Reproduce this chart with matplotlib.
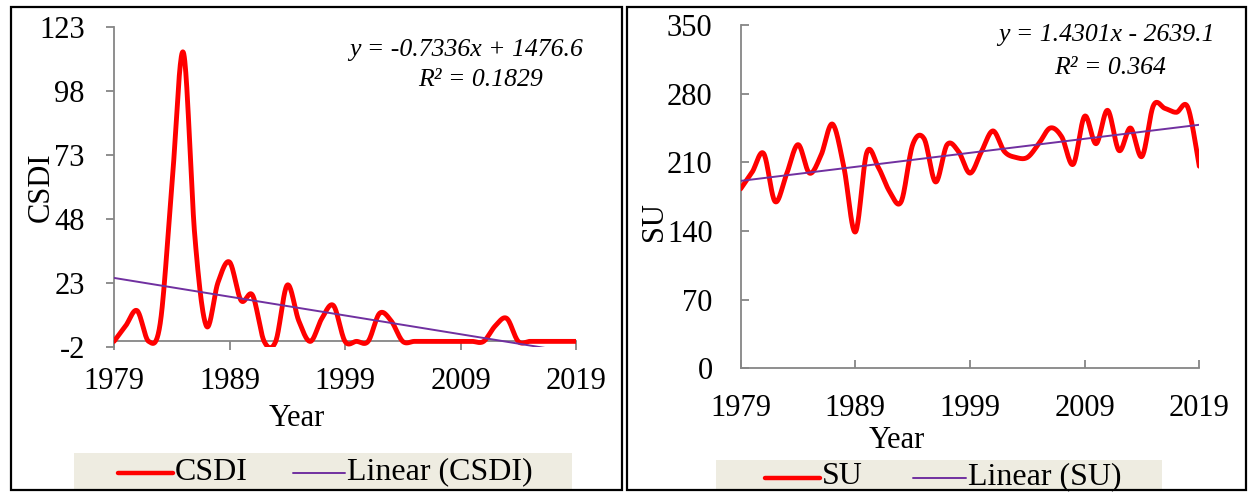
import numpy as np
import matplotlib
matplotlib.use("Agg")
import matplotlib.pyplot as plt
from matplotlib.patches import Rectangle
from matplotlib.lines import Line2D

plt.rcParams['font.family'] = ['Liberation Serif', 'DejaVu Serif']
plt.rcParams['axes.unicode_minus'] = False

# ---------------- data ----------------
years = list(range(1979, 2020))
csdi = [0, 6, 12, 0, 7, 60, 113, 41, 6, 23,
        31, 16, 18, 0, 0, 22, 8, 0, 9, 14,
        0, 0, 0, 11, 8, 0, 0, 0, 0, 0,
        0, 0, 0, 6, 9, 0, 0, 0, 0, 0, 0]
su = [183, 200, 219, 170, 198, 228, 199, 217, 249, 205,
      139, 220, 205, 180, 170, 228, 234, 190, 228, 221,
      199, 221, 242, 221, 215, 215, 229, 245, 236, 208,
      257, 229, 263, 222, 245, 216, 268, 265, 261, 266, 206]
csdi_slope, csdi_intercept = -0.7336, 1476.6
su_slope, su_intercept = 1.4301, -2639.1
csdi_eq = ["y = -0.7336x + 1476.6", "R² = 0.1829"]
su_eq = ["y = 1.4301x - 2639.1", "R² = 0.364"]
csdi_yticks = [-2, 23, 48, 73, 98, 123]
su_yticks = [0, 70, 140, 210, 280, 350]
xticks = [1979, 1989, 1999, 2009, 2019]

# ---------------- helpers ----------------
W, H = 1248, 492
fig = plt.figure(figsize=(W / 100, H / 100), dpi=100)


def fx(px):
    return px / W


def fy(py):
    return 1 - py / H


def smooth(x, y, n=24):
    """Excel-like smoothed line: cubic Bezier through every point."""
    x = np.asarray(x, float)
    y = np.asarray(y, float)
    P = np.column_stack([x, y])
    Pe = np.vstack([P[0], P, P[-1]])
    out = []
    t = np.linspace(0, 1, n)[:, None]
    for i in range(len(P) - 1):
        p0 = Pe[i + 1]
        p3 = Pe[i + 2]
        c1 = p0 + (Pe[i + 2] - Pe[i]) / 6
        c2 = p3 - (Pe[i + 3] - Pe[i + 1]) / 6
        seg = ((1 - t) ** 3) * p0 + 3 * ((1 - t) ** 2) * t * c1 + 3 * (1 - t) * t ** 2 * c2 + t ** 3 * p3
        out.append(seg if i == 0 else seg[1:])
    S = np.vstack(out)
    return S[:, 0], S[:, 1]


GRAY = '#868686'
RED = '#FF0000'
PURPLE = '#7030A0'
FS = 22
EQFS = 18.5
LFS = 23

# ---------------- panel borders ----------------
for (x0, x1) in [(11, 622), (627, 1246)]:
    fig.patches.append(Rectangle((fx(x0), fy(490)), fx(x1) - fx(x0), fy(7) - fy(490),
                                 transform=fig.transFigure, fill=False,
                                 edgecolor='black', linewidth=1.6, zorder=10))

# ---------------- left: CSDI ----------------
ax1 = fig.add_axes([fx(114), fy(346.5), fx(576) - fx(114), fy(26.7) - fy(346.5)])
ax1.set_xlim(1979, 2019)
ax1.set_ylim(-2, 123)
sx, sy = smooth(years, csdi)
ax1.plot(sx, sy, color=RED, lw=3.5, zorder=3, solid_capstyle='round')
tx = np.array([years[0], years[-1]], float)
ax1.plot(tx, csdi_slope * tx + csdi_intercept, color=PURPLE, lw=1.4, zorder=4)
for s in ['top', 'right']:
    ax1.spines[s].set_visible(False)
ax1.spines['bottom'].set_position(('data', 0))
for s in ['left', 'bottom']:
    ax1.spines[s].set_color(GRAY)
    ax1.spines[s].set_linewidth(1.3)
ax1.set_yticks(csdi_yticks)
ax1.set_xticks(xticks)
ax1.tick_params(axis='y', direction='out', length=6, width=1.3, color=GRAY, pad=15, labelsize=FS)
ax1.tick_params(axis='x', direction='out', length=6.5, width=1.3, color=GRAY, pad=12.3, labelsize=FS)
ax1.patch.set_visible(False)

fig.text(fx(41), fy(187), 'CSDI', rotation=90, ha='center', va='center', fontsize=FS)
fig.text(fx(297), fy(418), 'Year', ha='center', va='center', fontsize=FS)
fig.text(fx(466), fy(50), csdi_eq[0], ha='center', va='center', fontsize=EQFS, style='italic')
fig.text(fx(481), fy(80), csdi_eq[1], ha='center', va='center', fontsize=EQFS, style='italic')

# ---------------- right: SU ----------------
ax2 = fig.add_axes([fx(740.7), fy(368.3), fx(1199.3) - fx(740.7), fy(25) - fy(368.3)])
ax2.set_xlim(1979, 2019)
ax2.set_ylim(0, 350)
sx, sy = smooth(years, su)
ax2.plot(sx, sy, color=RED, lw=3.5, zorder=3, solid_capstyle='round')
ax2.plot(tx, su_slope * tx + su_intercept, color=PURPLE, lw=1.4, zorder=4)
for s in ['top', 'right']:
    ax2.spines[s].set_visible(False)
for s in ['left', 'bottom']:
    ax2.spines[s].set_color(GRAY)
    ax2.spines[s].set_linewidth(1.3)
ax2.set_yticks(su_yticks)
ax2.set_xticks(xticks)
ax2.tick_params(axis='y', direction='in', length=6, width=1.3, color=GRAY, pad=20.3, labelsize=FS)
ax2.tick_params(axis='x', direction='in', length=6, width=1.3, color=GRAY, pad=18.6, labelsize=FS)
ax2.patch.set_visible(False)

fig.text(fx(655), fy(222), 'SU', rotation=90, ha='center', va='center', fontsize=FS)
fig.text(fx(897), fy(440), 'Year', ha='center', va='center', fontsize=FS)
fig.text(fx(1106), fy(35), su_eq[0], ha='center', va='center', fontsize=EQFS, style='italic')
fig.text(fx(1110), fy(68), su_eq[1], ha='center', va='center', fontsize=EQFS, style='italic')

# ---------------- legends ----------------
BEIGE = '#EEECE1'


def legend(box, ly, items):
    x0, x1, y0, y1 = box
    fig.patches.append(Rectangle((fx(x0), fy(y1)), fx(x1) - fx(x0), fy(y0) - fy(y1),
                                 transform=fig.transFigure, facecolor=BEIGE,
                                 edgecolor='none', zorder=1))
    for (lx0, lx1, color, lw, label) in items:
        fig.lines.append(Line2D([fx(lx0), fx(lx1)], [fy(ly), fy(ly)], color=color, lw=lw,
                                transform=fig.transFigure, zorder=2, solid_capstyle='round'))
        fig.text(fx(lx1 + 2), fy(ly - 1), label, ha='left', va='center', fontsize=LFS, zorder=3)


legend((74, 572, 453, 489), 473,
       [(118, 173, RED, 3.2, 'CSDI'), (293, 345, PURPLE, 1.4, 'Linear (CSDI)')])
legend((716, 1162, 460, 489), 478,
       [(765, 820, RED, 3.2, 'SU'), (913, 966, PURPLE, 1.4, 'Linear (SU)')])

fig.savefig('out.png', dpi=100)
